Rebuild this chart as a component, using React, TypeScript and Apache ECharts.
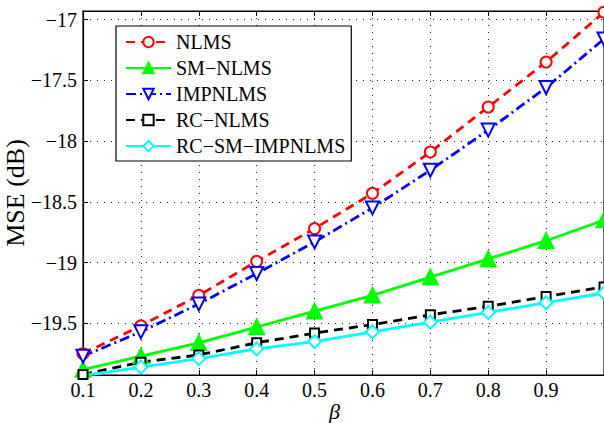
import React, { useEffect, useRef } from "react";
import * as echarts from "echarts";

const betas = [0.1, 0.2, 0.3, 0.4, 0.5, 0.6, 0.7, 0.8, 0.9, 1.0];
const nlms = [-19.75, -19.52, -19.27, -18.99, -18.72, -18.43, -18.09, -17.72, -17.35, -16.94];
const smNlms = [-19.88, -19.77, -19.66, -19.53, -19.4, -19.27, -19.12, -18.97, -18.82, -18.65];
const impnlms = [-19.77, -19.57, -19.34, -19.09, -18.83, -18.55, -18.24, -17.91, -17.56, -17.16];
const rcNlms = [-19.92, -19.82, -19.76, -19.66, -19.58, -19.51, -19.43, -19.36, -19.28, -19.2];
const rcSmImpnlms = [-19.93, -19.86, -19.79, -19.71, -19.65, -19.57, -19.49, -19.41, -19.33, -19.25];
const yTicks = [-19.5, -19, -18.5, -18, -17.5, -17];
const xTicks = [0.1, 0.2, 0.3, 0.4, 0.5, 0.6, 0.7, 0.8, 0.9];

const FONT = "Liberation Serif";

const pairs = (ys: number[]) => ys.map((y, i) => [betas[i], y]);

export default function App() {
  const ref = useRef<HTMLDivElement>(null);
  useEffect(() => {
    const chart = echarts.init(ref.current!, null, { renderer: "svg" });
    const gridLine = { show: true, lineStyle: { color: "#222", type: [1, 6], width: 1 } };
    const mk = (
      name: string,
      data: number[],
      color: string,
      lineType: any,
      symbol: string,
      size: number,
      extra: any = {}
    ) => ({
      name,
      type: "line",
      data: pairs(data),
      symbol,
      symbolSize: size,
      lineStyle: { color, width: 2.8, type: lineType },
      itemStyle: { color, borderColor: color, borderWidth: 2.4 },
      ...extra,
    });
    chart.setOption({
      animation: false,
      grid: {
        left: 83,
        top: 11,
        width: 521,
        height: 364,
        show: true,
        borderColor: "#000",
        borderWidth: 1.2,
        containLabel: false,
        outerBoundsMode: "none",
      },
      legend: {
        orient: "vertical",
        left: 116,
        top: 26,
        padding: [6, 6, 5, 9],
        itemWidth: 45,
        itemHeight: 13,
        itemGap: 6,
        backgroundColor: "#fff",
        borderColor: "#000",
        borderWidth: 1.2,
        borderRadius: 0,
        textStyle: { fontFamily: FONT, fontSize: 20, color: "#000", padding: [0, 0, 0, 0] },
        data: ["NLMS", "SM\u2212NLMS", "IMPNLMS", "RC\u2212NLMS", "RC\u2212SM\u2212IMPNLMS"],
      },
      xAxis: [
        {
          type: "value",
          min: 0.1,
          max: 1.0,
          interval: 0.1,
          name: "\u03b2",
          nameLocation: "middle",
          nameGap: 25,
          nameMoveOverlap: false,
          nameTextStyle: {
            fontFamily: FONT,
            fontSize: 22,
            lineHeight: 22,
            fontStyle: "italic",
            color: "#000",
            padding: [0, 18, 0, 0],
          },
          axisLine: { show: true, lineStyle: { color: "#000", width: 1.2 } },
          axisTick: { show: true, inside: true, length: 5, lineStyle: { color: "#000" } },
          axisLabel: {
            customValues: xTicks,
            margin: 5,
            fontFamily: FONT,
            fontSize: 20,
            color: "#000",
            formatter: (v: number) => v.toFixed(1),
          },
          splitLine: gridLine,
        },
        {
          type: "value",
          position: "top",
          min: 0.1,
          max: 1.0,
          interval: 0.1,
          axisLine: { show: true, lineStyle: { color: "#000", width: 1.2 } },
          axisTick: { show: true, inside: true, length: 5, lineStyle: { color: "#000" } },
          axisLabel: { show: false },
          splitLine: { show: false },
        },
      ],
      yAxis: {
        type: "value",
        min: -19.925,
        max: -16.93,
        name: "MSE (dB)",
        nameLocation: "middle",
        nameRotate: 90,
        nameGap: 55,
        nameMoveOverlap: false,
        nameTextStyle: { fontFamily: FONT, fontSize: 26, color: "#000" },
        axisLine: { show: true, lineStyle: { color: "#000", width: 1.2 } },
        axisTick: { show: true, inside: true, length: 5, customValues: yTicks, lineStyle: { color: "#000" } },
        axisLabel: {
          customValues: yTicks,
          margin: 6,
          fontFamily: FONT,
          fontSize: 20,
          color: "#000",
          formatter: (v: number) => String(v).replace("-", "\u2212"),
        },
        splitLine: gridLine,
      },
      series: [
        mk("NLMS", nlms, "#ff0000", [9, 6], "emptyCircle", 11),
        mk("SM\u2212NLMS", smNlms, "#00ff00", "solid", "triangle", 14),
        mk("IMPNLMS", impnlms, "#0000ff", [10, 4, 2, 4], "emptyTriangle", 13, { symbolRotate: 180 }),
        mk("RC\u2212NLMS", rcNlms, "#000000", [9, 6], "emptyRect", 9, { itemStyle: { color: "#000", borderColor: "#000", borderWidth: 3 } }),
        mk("RC\u2212SM\u2212IMPNLMS", rcSmImpnlms, "#00ffff", "solid", "emptyDiamond", 13),
      ],
    });
    return () => chart.dispose();
  }, []);
  return (
    <div
      ref={ref}
      style={{ position: "fixed", left: 0, top: 0, width: 604, height: 423, background: "#fff" }}
    />
  );
}
